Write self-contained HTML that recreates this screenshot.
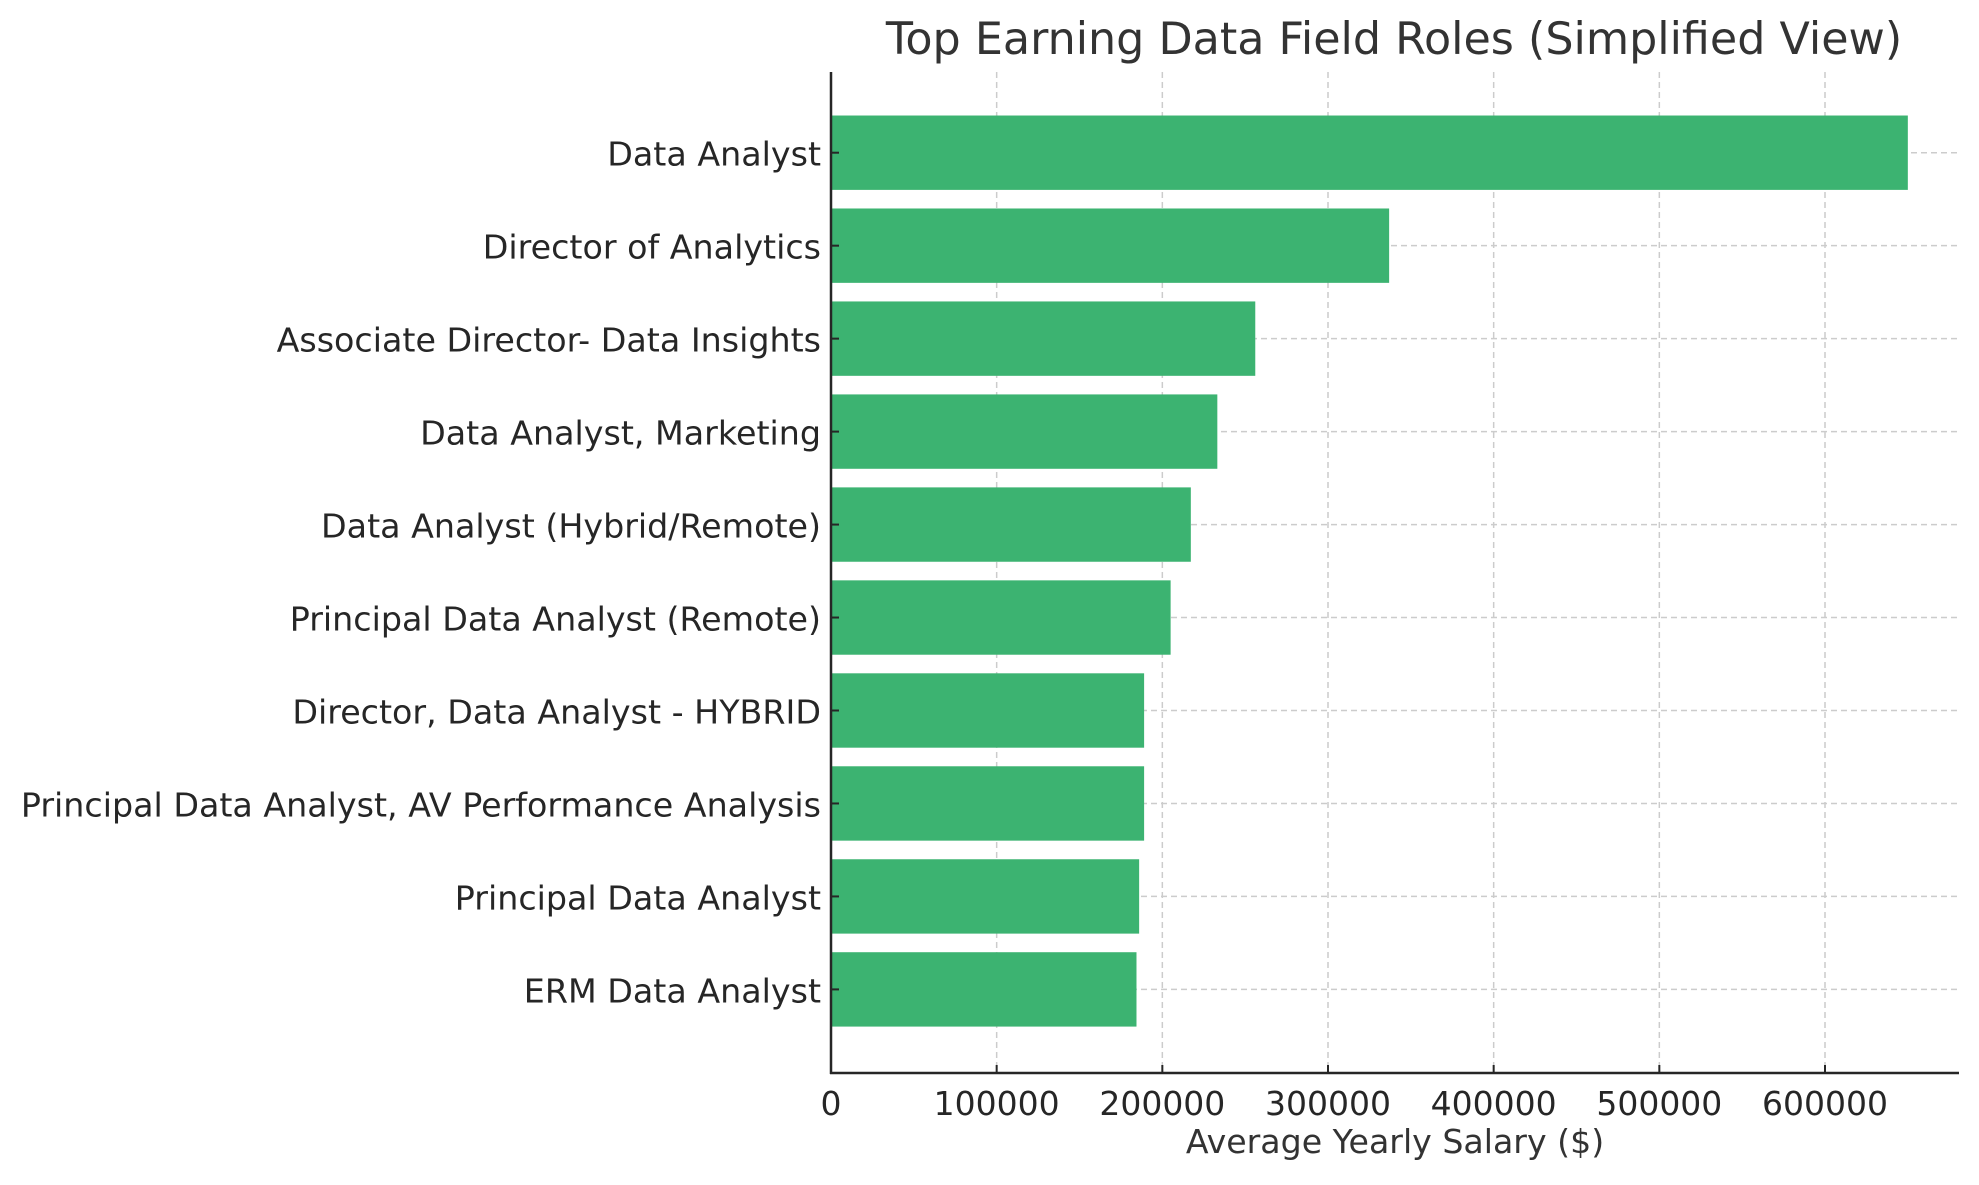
<!DOCTYPE html>
<html><head><meta charset="utf-8"><style>
html,body{margin:0;padding:0;background:#fff;}
svg text{font-family:"DejaVu Sans","Liberation Sans",sans-serif;fill:#262626;}
</style></head><body>
<svg id="chart" width="1979" height="1180" viewBox="0 0 1979 1180" xmlns="http://www.w3.org/2000/svg">
<text x="1394" y="54" text-anchor="middle" font-size="44.4" style="fill:#333">Top Earning Data Field Roles (Simplified View)</text>
<g id="grid"></g>
<g id="bars"></g>
<g id="axes"></g>
<text x="1395" y="1153" text-anchor="middle" font-size="33.2" style="fill:#333">Average Yearly Salary ($)</text>
</svg>
<script>
const categories = ["Data Analyst","Director of Analytics","Associate Director- Data Insights","Data Analyst, Marketing","Data Analyst (Hybrid/Remote)","Principal Data Analyst (Remote)","Director, Data Analyst - HYBRID","Principal Data Analyst, AV Performance Analysis","Principal Data Analyst","ERM Data Analyst"];
const salaries = [650000,336900,256100,233200,217200,205000,189000,189000,186000,184400];
const xTicks = [0,100000,200000,300000,400000,500000,600000];
const xTickLabels = ["0","100000","200000","300000","400000","500000","600000"];

const NS="http://www.w3.org/2000/svg";
const L=831, R=1959, T=72, B=1073;
const x = v => L + v*(1825-831)/600000;
const firstC=152.7, step=(989.4-152.7)/9;
const y = i => firstC + i*step;
const bh = step*0.8;
function mk(tag, attrs, parent){const e=document.createElementNS(NS,tag);for(const k in attrs)e.setAttribute(k,attrs[k]);parent.appendChild(e);return e;}
const grid=document.getElementById('grid'), bars=document.getElementById('bars'), axes=document.getElementById('axes');
xTicks.forEach((t,i)=>{
  if(t>0){const g=mk('line',{x1:x(t),x2:x(t),y1:T,y2:B,stroke:'#cccccc','stroke-width':1.5,'stroke-dasharray':'6,4'},grid);
  
  }
  const tk=mk('line',{x1:x(t),x2:x(t),y1:B,y2:B-8,stroke:'#262626','stroke-width':2},axes);
  
  
  const tl=mk('text',{x:x(t),y:B+42,'text-anchor':'middle','font-size':33},axes);
  tl.textContent=xTickLabels[i];
  
  
});
categories.forEach((c,i)=>{
  const g=mk('line',{x1:L,x2:R,y1:y(i),y2:y(i),stroke:'#cccccc','stroke-width':1.5,'stroke-dasharray':'6,4'},grid);
  
  
  const b=mk('rect',{x:L,y:y(i)-bh/2,width:x(salaries[i])-L,height:bh,fill:'#3cb371'},bars);
  
  
  const tk=mk('line',{x1:L,x2:L+8,y1:y(i),y2:y(i),stroke:'#262626','stroke-width':2},axes);
  
  
  const tl=mk('text',{x:L-10,y:y(i)+13,'text-anchor':'end','font-size':33.3},axes);
  tl.textContent=c;
  
  
});
const ys=mk('line',{x1:L,x2:L,y1:T,y2:B+1,stroke:'#262626','stroke-width':2.5},axes);


const xs=mk('line',{x1:L-1,x2:R,y1:B,y2:B,stroke:'#262626','stroke-width':2.5},axes);


</script>
</body></html>
